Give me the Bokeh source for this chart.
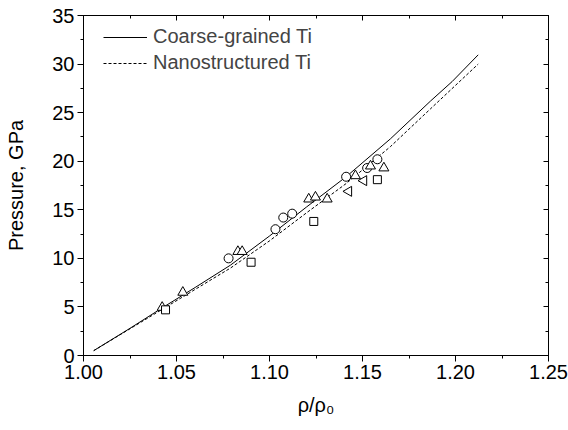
import math
from bokeh.plotting import figure
from bokeh.models import LinearAxis, Range1d, Legend, LegendItem, FixedTicker, CustomJSTickFormatter
from bokeh.embed import file_html
from bokeh.resources import INLINE

# ---- data ----
cg_x = [1.0055, 1.025, 1.0423, 1.06, 1.079, 1.10, 1.12, 1.1412, 1.165, 1.1866, 1.1982, 1.2122]
cg_y = [0.5, 2.8, 4.9, 7.0, 9.3, 12.3, 15.3, 18.4, 22.3, 26.2, 28.2, 30.95]

ns_x = [1.0055, 1.025, 1.0423, 1.06, 1.079, 1.10, 1.12, 1.1412, 1.165, 1.1866, 1.2122]
ns_y = [0.5, 2.75, 4.75, 6.8, 9.0, 11.8, 14.7, 17.7, 21.5, 25.4, 30.0]

circ_x = [1.078, 1.1032, 1.1074, 1.1122, 1.1412, 1.1525, 1.158]
circ_y = [10.0, 13.0, 14.2, 14.6, 18.4, 19.3, 20.2]

tri_x = [1.0423, 1.0534, 1.083, 1.0853, 1.1211, 1.1247, 1.131, 1.1462, 1.1543, 1.1615]
tri_y = [4.95, 6.5, 10.7, 10.7, 16.1, 16.3, 16.1, 18.5, 19.5, 19.3]

sq_x = [1.0441, 1.0901, 1.1238, 1.158]
sq_y = [4.7, 9.6, 13.8, 18.1]

ltri_x = [1.1426, 1.1507]
ltri_y = [16.9, 18.0]

x_ticks = [1.00, 1.05, 1.10, 1.15, 1.20, 1.25]
x_minor = [1.025, 1.075, 1.125, 1.175, 1.225]
y_ticks = [0, 5, 10, 15, 20, 25, 30, 35]
y_minor = [2.5, 7.5, 12.5, 17.5, 22.5, 27.5, 32.5]

x_title = "ρ/ρ₀"
y_title = "Pressure, GPa"
series_names = ["Coarse-grained Ti", "Nanostructured Ti"]

FONT = "Liberation Sans"
FS = "20px"

p = figure(width=568, height=430, output_backend="svg", toolbar_location=None,
           x_range=Range1d(1.00, 1.25), y_range=Range1d(0, 35),
           min_border_left=83, min_border_right=20, min_border_top=15, min_border_bottom=75,
           x_axis_location=None, y_axis_location=None)
p.grid.visible = False
p.outline_line_color = "black"
p.outline_line_width = 1
p.background_fill_color = "white"
p.border_fill_color = "white"

def make_axis(ticks, minor, labels=True, inside=False):
    ax = LinearAxis(ticker=FixedTicker(ticks=ticks, minor_ticks=minor))
    ax.axis_line_color = "black"
    ax.major_tick_line_color = "black"
    ax.minor_tick_line_color = "black"
    if inside:
        ax.major_tick_in = 5
        ax.major_tick_out = 0
        ax.minor_tick_in = 3
        ax.minor_tick_out = 0
    else:
        ax.major_tick_in = 0
        ax.major_tick_out = 6
        ax.minor_tick_in = 0
        ax.minor_tick_out = 3
    if labels:
        ax.major_label_text_font = FONT
        ax.major_label_text_font_size = FS
        ax.major_label_text_color = "black"
        ax.major_label_standoff = 3
        ax.axis_label_text_font = FONT
        ax.axis_label_text_font_size = FS
        ax.axis_label_text_font_style = "normal"
        ax.axis_label_text_color = "black"
    else:
        ax.major_label_text_font_size = "0px"
        ax.major_label_text_color = None
        ax.major_label_standoff = 0
    return ax

bx = make_axis(x_ticks, x_minor)
bx.formatter = CustomJSTickFormatter(code="return tick.toFixed(2);")
bx.axis_label = x_title
bx.axis_label_standoff = 12
p.add_layout(bx, "below")

ly = make_axis(y_ticks, y_minor)
ly.axis_label = y_title
ly.axis_label_standoff = 22
p.add_layout(ly, "left")

p.add_layout(make_axis(x_ticks, x_minor, labels=False, inside=True), "above")
p.add_layout(make_axis(y_ticks, y_minor, labels=False, inside=True), "right")

r_cg = p.line(cg_x, cg_y, line_color="black", line_width=1)
r_ns = p.line(ns_x, ns_y, line_color="black", line_width=1, line_dash="3 2")

mk = dict(fill_color="white", line_color="black", line_width=1)
p.scatter(circ_x, circ_y, marker="circle", size=9, **mk)
p.scatter(tri_x, tri_y, marker="triangle", size=10, **mk)
p.scatter(sq_x, sq_y, marker="square", size=8, **mk)
p.scatter(ltri_x, ltri_y, marker="triangle", size=10, angle=math.pi / 2, **mk)

legend = Legend(items=[LegendItem(label=series_names[0], renderers=[r_cg]),
                       LegendItem(label=series_names[1], renderers=[r_ns])],
                location=(20, 281), padding=0, margin=0, spacing=3,
                glyph_width=44, glyph_height=22, label_height=22, label_standoff=6,
                label_text_font=FONT, label_text_font_size=FS,
                background_fill_alpha=0, border_line_color=None)
p.add_layout(legend, "center")

open("out.html", "w").write(file_html(p, INLINE))
